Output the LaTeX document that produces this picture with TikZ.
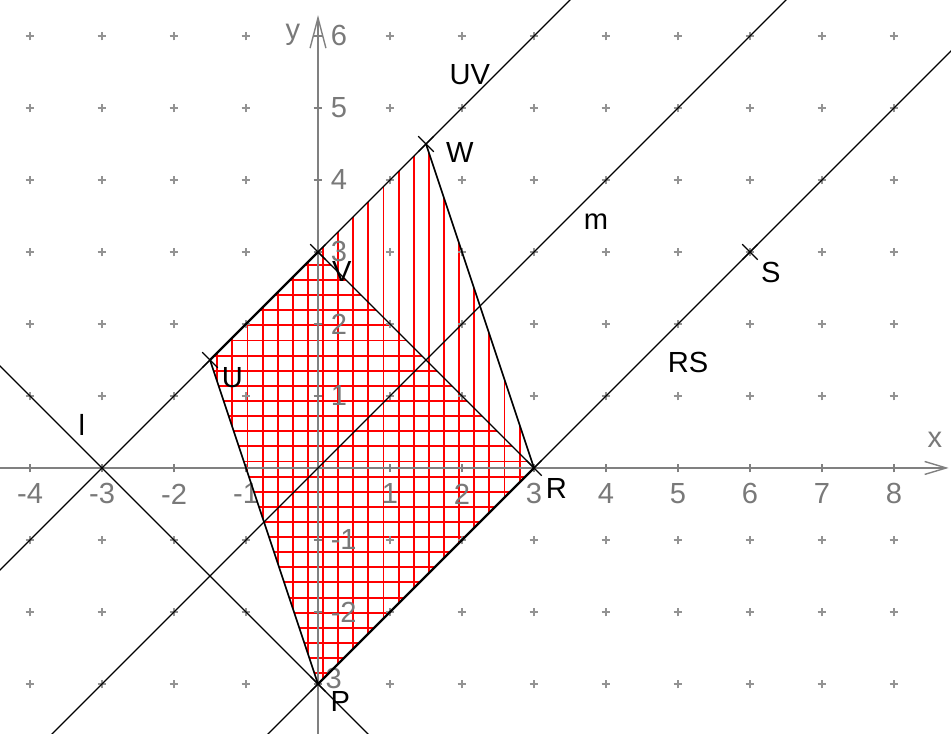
\documentclass[tikz,border=0pt]{standalone}
\usepackage{fontspec}
\setmainfont{Liberation Sans}
\usetikzlibrary{arrows.meta,shapes.misc,calc}

\begin{document}
\begin{tikzpicture}[
    font=\fontsize{11.5}{13}\selectfont,
    axis/.style={draw=gray, line width=0.55pt},
    gridmark/.style={draw=gray!85, line width=0.45pt},
    num/.style={text=gray!95!black, inner sep=0pt},
    line/.style={draw=black, line width=0.5pt},
    edge/.style={draw=black, line width=0.9pt},
    side/.style={draw=black, line width=0.65pt},
    hatch/.style={draw=red, line width=0.75pt},
    ptmark/.style={draw, cross out, minimum size=0.2cm, inner sep=0pt, line width=0.45pt},
    lab/.style={inner sep=0pt}
]
    \useasboundingbox (-4.417,-3.694) rectangle (8.792,6.5);
    \clip (-4.417,-3.694) rectangle (8.792,6.5);

    % Points
    \coordinate (P) at (0,-3);
    \coordinate (R) at (3,0);
    \coordinate (S) at (6,3);
    \coordinate (U) at (-1.5,1.5);
    \coordinate (V) at (0,3);
    \coordinate (W) at (1.5,4.5);
    \coordinate (L) at (-3,0);
    \coordinate (K) at (-1.5,-1.5);
    \coordinate (M) at (1.5,1.5);

    % Hatching
    \begin{scope}
        \clip (U) -- (P) -- (R) -- (W) -- cycle;
        \foreach \x in {-1.61,-1.40,...,3.1}
            \draw[hatch] (\x,-3.2) -- (\x,4.7);
    \end{scope}
    \begin{scope}
        \clip (U) -- (P) -- (R) -- (V) -- cycle;
        \foreach \y in {-3.06,-2.85,...,3.2}
            \draw[hatch] (-1.7,\y) -- (3.2,\y);
    \end{scope}

    % Grid marks
    \foreach \i in {-4,...,8}
        \foreach \j in {-3,...,6} {
            \ifnum\i=0 \else \ifnum\j=0 \else
                \draw[gridmark] (\i-0.06,\j) -- (\i+0.06,\j) (\i,\j-0.06) -- (\i,\j+0.06);
            \fi\fi
        }

    % Axes
    \coordinate (xs) at (-4.417,0);
    \coordinate (xe) at (8.76,0);
    \coordinate (ys) at (0,-3.694);
    \coordinate (ye) at (0,6.29);
    \draw[axis, -{Straight Barb[length=0.3cm, width=0.18cm]}] (xs) -- (xe);
    \draw[axis, -{Straight Barb[length=0.42cm, width=0.22cm]}] (ys) -- (ye);
    \foreach \i in {-4,...,-1,1,2,...,8} {
        \draw[axis] (\i,-0.06) -- (\i,0.06);
        \node[num] (xl\i) at (\i,-0.36) {\i};
    }
    \foreach \j in {-3,...,-1,1,2,...,6}
        \draw[axis] (-0.06,\j) -- (0.06,\j);
    \foreach \j in {-2,-1,1,2,...,6}
        \node[num, anchor=west] (yl\j) at (0.17,\j) {\j};
    \node[num, anchor=west] (yl-3) at (0.1,-2.93) {3};
    \node[num] (xname) at (8.57,0.39) {x};
    \node[num] (yname) at (-0.35,6.01) {y};

    % Lines
    \draw[line] ($(U)!-3!(W)$) -- ($(U)!4!(W)$);
    \draw[line] ($(P)!-1!(S)$) -- ($(P)!2!(S)$);
    \draw[line] ($(K)!-2!(M)$) -- ($(K)!4!(M)$);
    \draw[line] ($(L)!-2!(P)$) -- ($(L)!3!(P)$);

    % Sides
    \draw[edge] (P) -- (R);
    \draw[edge] (U) -- (V);
    \draw[side] (U) -- (P);
    \draw[side] (W) -- (R);
    \draw[line] (V) -- (R);

    % Point marks
    \foreach \p in {P,R,S,U,V,W}
        \node[ptmark] (mark\p) at (\p) {};

    % Labels
    \node[lab] (labP) at (0.31,-3.24) {P};
    \node[lab] (labR) at (3.31,-0.28) {R};
    \node[lab] (labS) at (6.29,2.72) {S};
    \node[lab] (labU) at (-1.19,1.25) {U};
    \node[lab] (labV) at (0.33,2.73) {V};
    \node[lab] (labW) at (1.97,4.375) {W};
    \node[lab] (labUV) at (2.11,5.46) {UV};
    \node[lab] (labm) at (3.86,3.42) {m};
    \node[lab] (labRS) at (5.14,1.47) {RS};
    \node[lab] (labl) at (-3.28,0.6) {l};
\end{tikzpicture}
\end{document}
